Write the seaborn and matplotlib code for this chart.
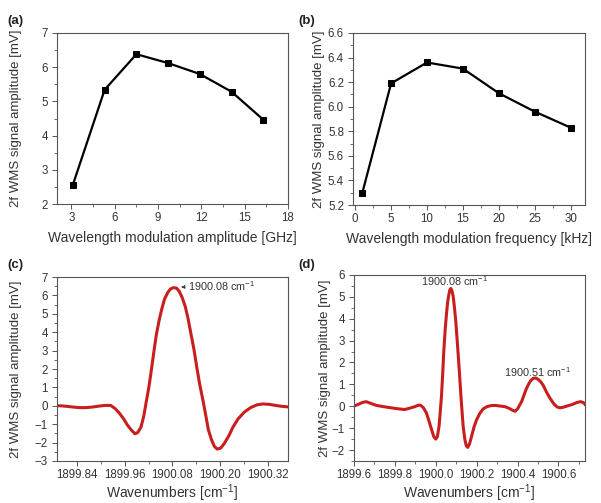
import matplotlib
matplotlib.use("Agg")
import matplotlib.pyplot as plt
from matplotlib.ticker import MultipleLocator
import seaborn as sns

# (a) amplitude scan
amp_ghz = [3.1, 5.3, 7.5, 9.7, 11.9, 14.1, 16.3]
amp_signal = [2.56, 5.34, 6.38, 6.12, 5.80, 5.28, 4.46]

# (b) frequency scan
freq_khz = [1, 5, 10, 15, 20, 25, 30]
freq_signal = [5.30, 6.19, 6.36, 6.31, 6.11, 5.96, 5.83]

# (c) single line 2f spectrum
wn_c = [1899.784, 1899.800, 1899.815, 1899.831, 1899.847, 1899.862, 1899.878,
        1899.894, 1899.910, 1899.925, 1899.936, 1899.946, 1899.957, 1899.967,
        1899.978, 1899.986, 1899.993, 1900.001, 1900.008, 1900.014, 1900.021,
        1900.027, 1900.033, 1900.039, 1900.046, 1900.053, 1900.060, 1900.068,
        1900.075, 1900.082, 1900.090, 1900.097, 1900.104, 1900.112, 1900.119,
        1900.126, 1900.134, 1900.141, 1900.148, 1900.156, 1900.163, 1900.170,
        1900.178, 1900.185, 1900.192, 1900.201, 1900.210, 1900.221, 1900.232,
        1900.245, 1900.260, 1900.276, 1900.292, 1900.307, 1900.323, 1900.339,
        1900.355, 1900.370]
sig_c = [0.00, 0.00, -0.03, -0.07, -0.10, -0.10, -0.07,
         -0.02, 0.02, 0.02, -0.15, -0.38, -0.70, -1.05,
         -1.35, -1.52, -1.45, -1.15, -0.55, 0.20, 1.05,
         1.95, 2.90, 3.80, 4.60, 5.25, 5.80, 6.15,
         6.35, 6.42, 6.40, 6.22, 5.90, 5.40, 4.75,
         3.95, 3.05, 2.10, 1.20, 0.35, -0.45, -1.30,
         -1.85, -2.20, -2.35, -2.30, -2.05, -1.65, -1.15,
         -0.70, -0.35, -0.10, 0.05, 0.10, 0.08, 0.02,
         -0.03, -0.06]

# (d) two-line 2f spectrum
wn_d = [1899.597, 1899.620, 1899.640, 1899.659, 1899.680, 1899.709, 1899.740,
        1899.774, 1899.810, 1899.848, 1899.872, 1899.897, 1899.912, 1899.925,
        1899.938, 1899.954, 1899.966, 1899.979, 1899.990, 1900.000, 1900.008,
        1900.016, 1900.022, 1900.028, 1900.034, 1900.039, 1900.046, 1900.052,
        1900.058, 1900.064, 1900.069, 1900.074, 1900.080, 1900.085, 1900.091,
        1900.098, 1900.104, 1900.110, 1900.117, 1900.123, 1900.129, 1900.134,
        1900.142, 1900.149, 1900.156, 1900.165, 1900.175, 1900.187, 1900.200,
        1900.215, 1900.232, 1900.250, 1900.270, 1900.290, 1900.315, 1900.339,
        1900.360, 1900.375, 1900.388, 1900.400, 1900.410, 1900.421, 1900.433,
        1900.444, 1900.454, 1900.465, 1900.478, 1900.490, 1900.502, 1900.515,
        1900.527, 1900.540, 1900.555, 1900.568, 1900.580, 1900.595, 1900.609,
        1900.625, 1900.645, 1900.667, 1900.690, 1900.708, 1900.722, 1900.733]
sig_d = [0.00, 0.08, 0.17, 0.21, 0.14, 0.04, -0.01,
         -0.06, -0.11, -0.15, -0.09, -0.02, 0.04, 0.05,
         -0.05, -0.30, -0.65, -1.05, -1.38, -1.50, -1.38,
         -0.92, -0.25, 0.47, 1.50, 2.48, 3.50, 4.18,
         4.75, 5.10, 5.32, 5.38, 5.25, 5.03, 4.55,
         3.87, 3.10, 2.32, 1.35, 0.47, -0.30, -0.92,
         -1.50, -1.80, -1.88, -1.72, -1.38, -0.95, -0.61,
         -0.33, -0.12, -0.02, 0.03, 0.04, 0.01, -0.02,
         -0.10, -0.18, -0.23, -0.12, 0.05, 0.24, 0.55,
         0.82, 1.01, 1.18, 1.28, 1.29, 1.22, 1.10,
         0.93, 0.68, 0.42, 0.24, 0.08, -0.04, -0.07,
         -0.04, 0.02, 0.08, 0.17, 0.21, 0.17, 0.05]

sns.set_theme(style="ticks")
plt.rcParams["font.family"] = ["Liberation Sans", "DejaVu Sans"]
plt.rcParams["mathtext.default"] = "regular"
plt.rcParams["axes.edgecolor"] = "#555555"
plt.rcParams["axes.linewidth"] = 0.8
plt.rcParams["xtick.color"] = "#555555"
plt.rcParams["ytick.color"] = "#555555"
plt.rcParams["xtick.labelcolor"] = "#333333"
plt.rcParams["ytick.labelcolor"] = "#333333"

fig = plt.figure(figsize=(6.01, 5.03), dpi=100)
ax_a = fig.add_axes([0.0948, 0.5944, 0.3844, 0.340])
ax_b = fig.add_axes([0.5874, 0.5924, 0.386, 0.342])
ax_c = fig.add_axes([0.0948, 0.0835, 0.3844, 0.3658])
ax_d = fig.add_axes([0.589, 0.0835, 0.3844, 0.370])

red = "#c81e1e"
ylab = "2f WMS signal amplitude [mV]"

sns.lineplot(x=amp_ghz, y=amp_signal, ax=ax_a, color="black", linewidth=1.6,
             marker="s", markersize=5, markeredgecolor="black")
sns.lineplot(x=freq_khz, y=freq_signal, ax=ax_b, color="black", linewidth=1.6,
             marker="s", markersize=5, markeredgecolor="black")
sns.lineplot(x=wn_c, y=sig_c, ax=ax_c, color=red, linewidth=2.2)
sns.lineplot(x=wn_d, y=sig_d, ax=ax_d, color=red, linewidth=2.2)

ax_a.set(xlim=(2, 18), ylim=(2, 7))
ax_a.xaxis.set_major_locator(MultipleLocator(3))
ax_a.xaxis.set_minor_locator(MultipleLocator(1.5))
ax_a.yaxis.set_major_locator(MultipleLocator(1))
ax_a.yaxis.set_minor_locator(MultipleLocator(0.5))
ax_a.set_xlabel("Wavelength modulation amplitude [GHz]")

ax_b.set(xlim=(-0.3, 32), ylim=(5.2, 6.6))
ax_b.xaxis.set_major_locator(MultipleLocator(5))
ax_b.xaxis.set_minor_locator(MultipleLocator(2.5))
ax_b.yaxis.set_major_locator(MultipleLocator(0.2))
ax_b.yaxis.set_minor_locator(MultipleLocator(0.1))
ax_b.yaxis.set_major_formatter(plt.FormatStrFormatter("%.1f"))
ax_b.set_xlabel("Wavelength modulation frequency [kHz]")

ax_c.set(xlim=(1899.79, 1900.37), ylim=(-3, 7))
ax_c.set_xticks([1899.84, 1899.96, 1900.08, 1900.20, 1900.32])
ax_c.xaxis.set_major_formatter(plt.FormatStrFormatter("%.2f"))
ax_c.xaxis.set_minor_locator(MultipleLocator(0.06))
ax_c.yaxis.set_major_locator(MultipleLocator(1))
ax_c.yaxis.set_minor_locator(MultipleLocator(0.5))
ax_c.set_xlabel("Wavenumbers [cm$^{-1}$]")
ax_c.annotate("1900.08 cm$^{-1}$", xy=(1900.095, 6.45), xytext=(1900.12, 6.5),
              fontsize=7.8, color="#333333", va="center",
              arrowprops=dict(arrowstyle="-|>", color="#333333", lw=0.6,
                              mutation_scale=5))

ax_d.set(xlim=(1899.6, 1900.73), ylim=(-2.5, 6))
ax_d.xaxis.set_major_locator(MultipleLocator(0.2))
ax_d.xaxis.set_minor_locator(MultipleLocator(0.1))
ax_d.xaxis.set_major_formatter(plt.FormatStrFormatter("%.1f"))
ax_d.yaxis.set_major_locator(MultipleLocator(1))
ax_d.yaxis.set_minor_locator(MultipleLocator(0.5))
ax_d.set_xlabel("Wavenumbers [cm$^{-1}$]")
ax_d.text(1900.093, 5.72, "1900.08 cm$^{-1}$", fontsize=7.8, color="#333333",
          ha="center", va="center")
ax_d.text(1900.496, 1.55, "1900.51 cm$^{-1}$", fontsize=7.8, color="#333333",
          ha="center", va="center")

ylabel_x = {ax_a: -0.152, ax_b: -0.12, ax_c: -0.152, ax_d: -0.10}
for ax in (ax_a, ax_b, ax_c, ax_d):
    ax.set_ylabel(ylab)
    ax.xaxis.label.set_size(10)
    ax.yaxis.label.set_size(9.5)
    ax.xaxis.label.set_color("#333333")
    ax.yaxis.label.set_color("#333333")
    ax.tick_params(which="major", direction="out", length=3.5, width=0.7,
                   labelsize=8.3, pad=2)
    ax.tick_params(axis="y", which="major", pad=3)
    ax.tick_params(which="minor", direction="out", length=2, width=0.6)
    ax.yaxis.set_label_coords(ylabel_x[ax], 0.5)

ax_a.xaxis.labelpad = 5
ax_b.xaxis.labelpad = 5
ax_c.xaxis.labelpad = 1
ax_d.xaxis.labelpad = 1

for lbl, x, y in [("(a)", 0.012, 0.953), ("(b)", 0.497, 0.953),
                  ("(c)", 0.012, 0.467), ("(d)", 0.497, 0.467)]:
    fig.text(x, y, lbl, fontsize=9.5, fontweight="bold", color="#222222")

fig.savefig("out.png", dpi=100)
